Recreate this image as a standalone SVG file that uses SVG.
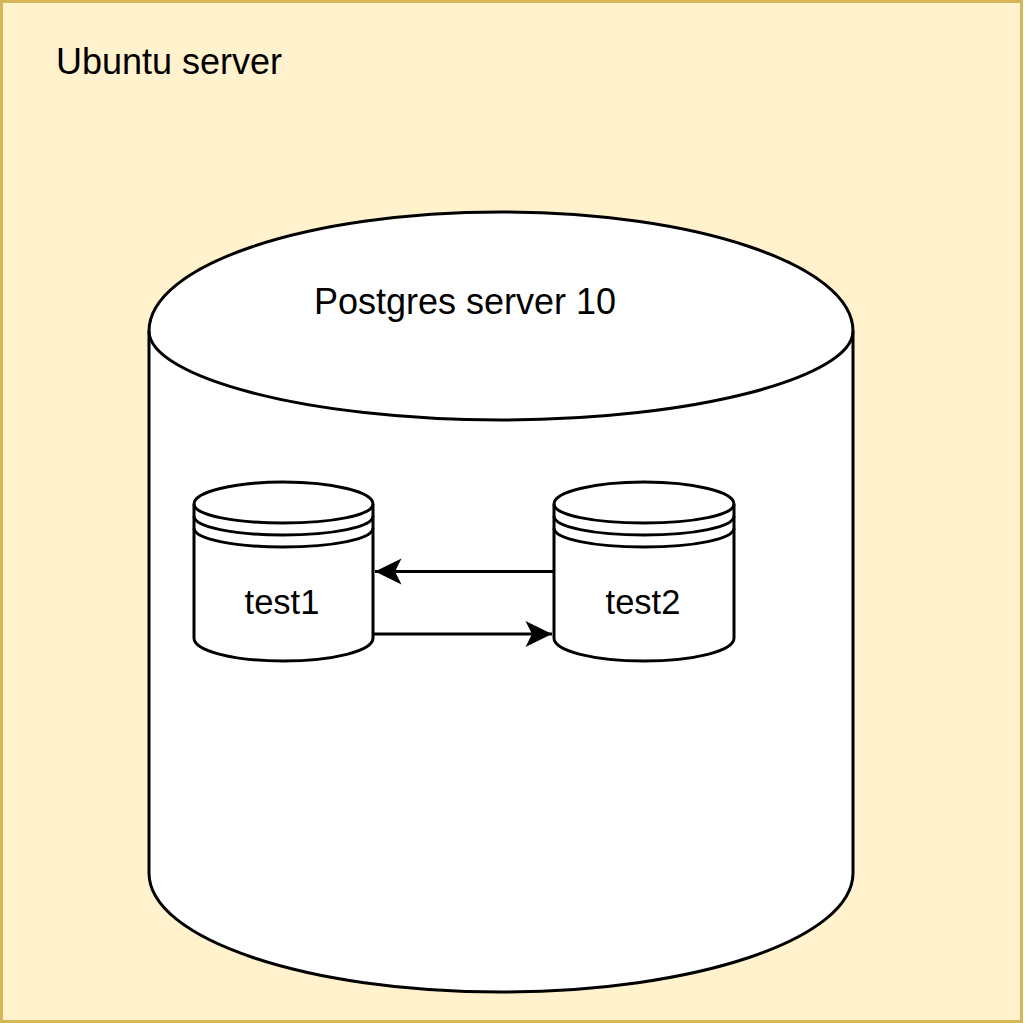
<svg xmlns="http://www.w3.org/2000/svg" width="1026" height="1023" viewBox="0 0 1026 1023">
<defs><marker id="arr" markerUnits="userSpaceOnUse" markerWidth="30" markerHeight="30" refX="28" refY="15" orient="auto"><path d="M1.5 2 L28 15 L1.500 28 L8 15 Z" fill="#000"/></marker></defs>
<style>
.s{fill:#fff;stroke:#000;stroke-width:3}
.n{fill:none;stroke:#000;stroke-width:3}
text{font-family:"Liberation Sans",Arial,sans-serif;fill:#000}
.c{stroke:#000;stroke-width:3;fill:none;marker-end:url(#arr)}
</style>
<rect width="1026" height="1023" fill="#fff"/>
<g id="ubuntu"><rect x="1.5" y="1.5" width="1020" height="1020" fill="#fff2cc" stroke="#d6b656" stroke-width="3"/>
<text x="56" y="74" font-size="36">Ubuntu server</text></g>
<g id="postgres"><path class="s" d="M149 331 C149 265 307 212 501 212 C695 212 853 265 853 331 V873 C853 939 695 992 501 992 C307 992 149 939 149 873 Z"/>
<path class="n" d="M149 331 C149 377 307 420 501 420 C695 420 853 377 853 331"/>
<text x="465" y="314" font-size="36" text-anchor="middle">Postgres server 10</text></g>
<g id="test1"><path class="s" d="M194 504 C194 492 234 482 283 482 C333 482 373 492 373 504 V638 C373 651 333 661 283 661 C234 661 194 651 194 638 Z"/>
<path class="n" d="M194 504 C194 515 234 523 283 523 C333 523 373 515 373 504 M194 516 C194 527 234 535 283 535 C333 535 373 527 373 516 M194 528 C194 539 234 547 283 547 C333 547 373 539 373 528"/>
<text x="282" y="614" font-size="34.500" text-anchor="middle">test1</text></g>
<g id="test2"><path class="s" d="M554 504 C554 492 594 482 644 482 C694 482 734 492 734 504 V638 C734 651 694 661 644 661 C594 661 554 651 554 638 Z"/>
<path class="n" d="M554 504 C554 515 594 523 644 523 C694 523 734 515 734 504 M554 516 C554 527 594 535 644 535 C694 535 734 527 734 516 M554 528 C554 539 594 547 644 547 C694 547 734 539 734 528"/>
<text x="643" y="614" font-size="34.500" text-anchor="middle">test2</text></g>
<g id="connectors"><path class="c" d="M554 571.500 H375"/><path class="c" d="M373 634 H552"/></g>
</svg>
